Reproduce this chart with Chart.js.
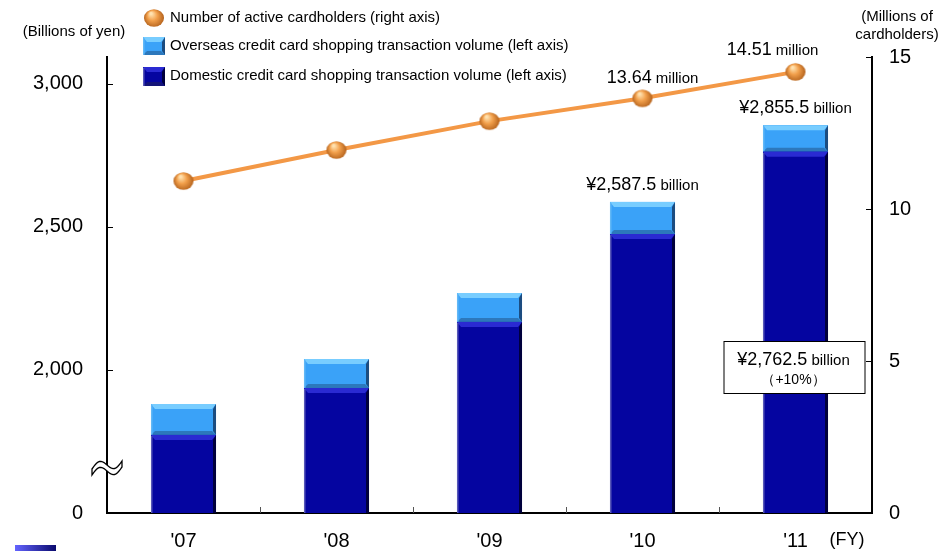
<!DOCTYPE html>
<html>
<head>
<meta charset="utf-8">
<script src="https://cdn.jsdelivr.net/npm/chart.js@4.4.1/dist/chart.umd.min.js"></script>
<style>
  body { margin: 0; background: #fff; }
  #wrap { width: 948px; height: 551px; position: relative; }
</style>
</head>
<body>
<div id="wrap"><canvas id="card-chart"></canvas></div>
<script>
const years = ["'07", "'08", "'09", "'10", "'11"];
const domestic = [1773, 1937, 2168, 2475, 2762.5];
const overseas = [108, 101, 101, 112.5, 93];
const cardholders = [10.92, 11.94, 12.89, 13.64, 14.51];
// the left axis is broken: 1500 sits on the baseline and reads "0"
const leftTicks = [1500, 2000, 2500, 3000];
const rightTicks = [0, 5, 10, 15];

const FONT = '"Liberation Sans", Arial, sans-serif';
const fmt = v => v.toLocaleString('en-US', { minimumFractionDigits: 1, maximumFractionDigits: 1 });

// orange ball used for the line points and the legend
function makeBall(r) {
  const c = document.createElement('canvas');
  c.width = r * 2 + 2;
  c.height = r * 2 + 2;
  const g = c.getContext('2d');
  const cx = r + 1, cy = r + 1;
  const grad = g.createRadialGradient(cx - r * 0.3, cy - r * 0.45, r * 0.1, cx, cy, r);
  grad.addColorStop(0, '#ffe2b0');
  grad.addColorStop(0.45, '#f2a04c');
  grad.addColorStop(1, '#b4621c');
  g.fillStyle = grad;
  g.beginPath();
  g.ellipse(cx, cy, r, r * 0.88, 0, 0, Math.PI * 2);
  g.fill();
  return c;
}
const ball = makeBall(10);

const barLook = {
  dom: { main: '#0505a0', top: '#2a2ad2', right: '#00003c', bottom: '#141478', left: '#5858b8' },
  ovs: { main: '#3aa2f8', top: '#78cdff', right: '#1c4c80', bottom: '#2c78bc', left: '#62b8f6' }
};

function bevelRect(ctx, left, top, right, bottom, look) {
  const b = 4;
  ctx.save();
  ctx.fillStyle = look.main;
  ctx.fillRect(left, top, right - left, bottom - top);
  ctx.fillStyle = look.top;
  ctx.beginPath();
  ctx.moveTo(left, top); ctx.lineTo(right, top); ctx.lineTo(right - b, top + b + 1); ctx.lineTo(left + b, top + b + 1);
  ctx.closePath(); ctx.fill();
  ctx.fillStyle = look.bottom;
  ctx.beginPath();
  ctx.moveTo(left, bottom); ctx.lineTo(right, bottom); ctx.lineTo(right - b, bottom - b); ctx.lineTo(left + b, bottom - b);
  ctx.closePath(); ctx.fill();
  ctx.fillStyle = look.right;
  ctx.beginPath();
  ctx.moveTo(right, top); ctx.lineTo(right, bottom); ctx.lineTo(right - 3, bottom - b); ctx.lineTo(right - 3, top + b + 1);
  ctx.closePath(); ctx.fill();
  ctx.fillStyle = look.left;
  ctx.fillRect(left, top + 1, 1.5, bottom - top - 1);
  ctx.restore();
}

// number in a larger size followed by a smaller unit word, centred on cx
function drawPair(ctx, big, small, cx, cy) {
  ctx.save();
  ctx.fillStyle = '#000';
  ctx.textBaseline = 'alphabetic';
  ctx.textAlign = 'left';
  ctx.font = '18px ' + FONT;
  const wb = ctx.measureText(big).width;
  ctx.font = '15px ' + FONT;
  const ws = ctx.measureText(' ' + small).width;
  const x0 = cx - (wb + ws) / 2;
  ctx.font = '18px ' + FONT;
  ctx.fillText(big, x0, cy + 6);
  ctx.font = '15px ' + FONT;
  ctx.fillText(' ' + small, x0 + wb, cy + 6);
  ctx.restore();
}

const bevels = {
  id: 'bevels',
  afterDatasetDraw(chart, args) {
    if (args.index > 1) return;
    const look = args.index === 0 ? barLook.dom : barLook.ovs;
    const ctx = chart.ctx;
    ctx.save();
    ctx.beginPath();
    ctx.rect(chart.chartArea.left, chart.chartArea.top, chart.chartArea.width, chart.chartArea.height);
    ctx.clip();
    args.meta.data.forEach(bar => {
      const p = bar.getProps(['x', 'y', 'base', 'width'], true);
      bevelRect(ctx, p.x - p.width / 2, Math.min(p.y, p.base), p.x + p.width / 2, Math.max(p.y, p.base), look);
    });
    ctx.restore();
  }
};

const decor = {
  id: 'decor',
  afterDraw(chart) {
    const ctx = chart.ctx;
    const { left, right, top, bottom } = chart.chartArea;
    const x = chart.scales.x, y = chart.scales.y, y1 = chart.scales.y1;
    ctx.save();

    // inward tick marks
    ctx.strokeStyle = '#000';
    ctx.lineWidth = 1;
    leftTicks.slice(1).forEach(v => {
      const py = Math.round(y.getPixelForValue(v)) + 0.5;
      ctx.beginPath(); ctx.moveTo(left, py); ctx.lineTo(left + 6, py); ctx.stroke();
    });
    rightTicks.slice(1).forEach(v => {
      const py = Math.round(y1.getPixelForValue(v)) + 0.5;
      ctx.beginPath(); ctx.moveTo(right - 6, py); ctx.lineTo(right, py); ctx.stroke();
    });
    ctx.strokeStyle = '#555';
    for (let i = 0; i < years.length - 1; i++) {
      const px = Math.round((x.getPixelForValue(i) + x.getPixelForValue(i + 1)) / 2) + 0.5;
      ctx.beginPath(); ctx.moveTo(px, bottom); ctx.lineTo(px, bottom - 6); ctx.stroke();
    }

    // break mark on the left axis
    const by = bottom - 45;
    ctx.beginPath();
    const pts = [];
    for (let t = 0; t <= 1.0001; t += 0.05) pts.push([left - 15 + 30 * t, by + 4 - 8 * t - 5.5 * Math.sin(2 * Math.PI * t)]);
    pts.forEach((p, i) => i ? ctx.lineTo(p[0], p[1] - 3) : ctx.moveTo(p[0], p[1] - 3));
    pts.slice().reverse().forEach(p => ctx.lineTo(p[0], p[1] + 3));
    ctx.closePath();
    ctx.fillStyle = '#fff';
    ctx.fill();
    ctx.strokeStyle = '#000';
    ctx.lineWidth = 1.3;
    ctx.stroke();

    // axis titles
    ctx.fillStyle = '#000';
    ctx.textAlign = 'center';
    ctx.textBaseline = 'middle';
    ctx.font = '15px ' + FONT;
    ctx.fillText('(Billions of yen)', 74, 32);
    ctx.fillText('(Millions of', 897, 17);
    ctx.fillText('cardholders)', 897, 35);
    ctx.font = '18px ' + FONT;
    ctx.fillText('(FY)', 847, 540);

    // legend
    ctx.drawImage(ball, 154 - ball.width / 2, 18 - ball.height / 2);
    bevelRect(ctx, 143, 37, 165, 55, barLook.ovs);
    bevelRect(ctx, 143, 67, 165, 86, barLook.dom);
    ctx.textAlign = 'left';
    ctx.font = '15px ' + FONT;
    ctx.fillStyle = '#000';
    ctx.fillText(chart.data.datasets[2].label, 170, 18);
    ctx.fillText(chart.data.datasets[1].label, 170, 46);
    ctx.fillText(chart.data.datasets[0].label, 170, 76);

    // value labels for the last two years
    const lineMeta = chart.getDatasetMeta(2).data;
    const p10 = lineMeta[3], p11 = lineMeta[4];
    drawPair(ctx, cardholders[3].toFixed(2), 'million', p10.x + 10, p10.y - 21);
    drawPair(ctx, cardholders[4].toFixed(2), 'million', p11.x - 23, p11.y - 23);

    const topMeta = chart.getDatasetMeta(1).data;
    [3, 4].forEach(i => {
      const bar = topMeta[i];
      drawPair(ctx, '¥' + fmt(domestic[i] + overseas[i]), 'billion', bar.x, bar.y - 18);
    });

    // boxed domestic figure inside the '11 bar
    const b11 = chart.getDatasetMeta(0).data[4];
    const bx = b11.x - 72, bt = bottom - 172;
    ctx.fillStyle = '#fff';
    ctx.fillRect(bx, bt, 141, 52);
    ctx.strokeStyle = '#000';
    ctx.lineWidth = 1;
    ctx.strokeRect(bx + 0.5, bt + 0.5, 141, 52);
    drawPair(ctx, '¥' + fmt(domestic[4]), 'billion', bx + 70, bt + 18);
    ctx.fillStyle = '#000';
    ctx.textAlign = 'center';
    ctx.textBaseline = 'middle';
    ctx.font = '14px ' + FONT;
    ctx.fillText('（+10%）', bx + 70, bt + 39);

    // small gradient strip in the lower-left corner
    const sg = ctx.createLinearGradient(15, 0, 56, 0);
    sg.addColorStop(0, '#6464ff');
    sg.addColorStop(1, '#0a0a6e');
    ctx.fillStyle = sg;
    ctx.fillRect(15, 545, 41, 6);

    ctx.restore();
  }
};

const axisGrid = { display: true, drawOnChartArea: false, drawTicks: false, color: 'transparent' };
const axisBorder = { display: true, color: '#000', width: 2 };
const tickFont = { family: FONT, size: 20 };

new Chart(document.getElementById('card-chart'), {
  type: 'bar',
  data: {
    labels: years,
    datasets: [
      {
        label: 'Domestic credit card shopping transaction volume (left axis)',
        data: domestic,
        backgroundColor: barLook.dom.main,
        yAxisID: 'y',
        stack: 'volume',
        order: 2,
        barPercentage: 0.425,
        categoryPercentage: 1
      },
      {
        label: 'Overseas credit card shopping transaction volume (left axis)',
        data: overseas,
        backgroundColor: barLook.ovs.main,
        yAxisID: 'y',
        stack: 'volume',
        order: 2,
        barPercentage: 0.425,
        categoryPercentage: 1
      },
      {
        type: 'line',
        label: 'Number of active cardholders (right axis)',
        data: cardholders,
        yAxisID: 'y1',
        borderColor: '#f39846',
        borderWidth: 4,
        pointStyle: ball,
        pointRadius: 10,
        tension: 0,
        order: 1
      }
    ]
  },
  options: {
    responsive: true,
    maintainAspectRatio: false,
    animation: false,
    layout: { padding: { top: 57, left: 0, right: 0, bottom: 0 } },
    plugins: { legend: { display: false }, tooltip: { enabled: false } },
    scales: {
      x: {
        stacked: true,
        grid: axisGrid,
        border: axisBorder,
        ticks: { font: tickFont, color: '#000', padding: 16 },
        afterFit: s => { s.height = 38; }
      },
      y: {
        position: 'left',
        stacked: true,
        min: 1500,
        max: 3094,
        grid: axisGrid,
        border: axisBorder,
        afterBuildTicks: s => { s.ticks = leftTicks.map(v => ({ value: v })); },
        ticks: {
          font: tickFont,
          color: '#000',
          padding: 24,
          callback: v => v === 1500 ? '0' : v.toLocaleString('en-US')
        },
        afterFit: s => { s.width = 107; }
      },
      y1: {
        position: 'right',
        min: 0,
        max: 15,
        grid: axisGrid,
        border: axisBorder,
        afterBuildTicks: s => { s.ticks = rightTicks.map(v => ({ value: v })); },
        ticks: { font: tickFont, color: '#000', padding: 17 },
        afterFit: s => { s.width = 76; }
      }
    }
  },
  plugins: [bevels, decor]
});
</script>
</body>
</html>
